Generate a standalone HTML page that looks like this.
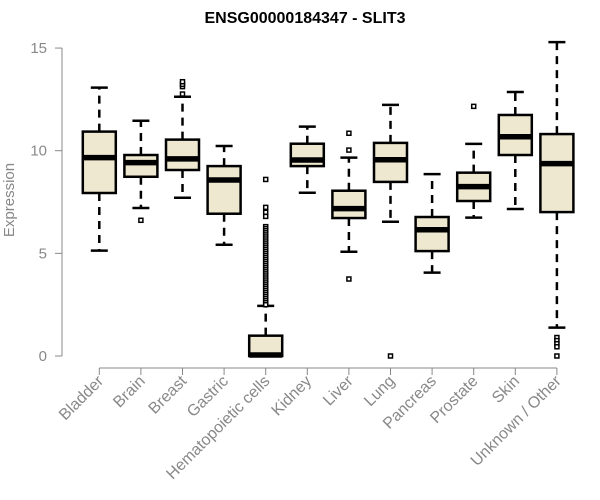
<!DOCTYPE html>
<html><head><meta charset="utf-8"><style>
body{margin:0;background:#fff}
svg{display:block;font-family:"Liberation Sans",Arial,sans-serif}
</style></head><body>
<svg id="chart" width="600" height="500">
<text x="305" y="23" text-anchor="middle" font-weight="bold" font-size="16" fill="#000">ENSG00000184347 - SLIT3</text>
<text transform="translate(14,200) rotate(-90)" text-anchor="middle" font-size="15" fill="#888">Expression</text>
<g id="yaxis"></g>
<g id="xaxis"></g>
<g id="boxes"></g>
</svg>
<script>
const categories=["Bladder","Brain","Breast","Gastric","Hematopoietic cells","Kidney","Liver","Lung","Pancreas","Prostate","Skin","Unknown / Other"];
const whiskerLow=[5.13,7.21,7.71,5.42,0,7.95,5.08,6.54,4.06,6.74,7.16,1.38];
const q1=[7.94,8.73,9.06,6.93,0,9.25,6.72,8.48,5.11,7.55,9.79,7.01];
const medians=[9.66,9.42,9.6,8.57,0.05,9.55,7.18,9.56,6.15,8.25,10.68,9.37];
const q3=[10.93,9.79,10.54,9.25,0.99,10.34,8.05,10.38,6.77,8.93,11.74,10.81];
const whiskerHigh=[13.07,11.46,12.63,10.23,2.44,11.17,9.66,12.23,8.86,10.33,12.86,15.29];
const outliers=[[],[6.61],[12.76,13.12,13.23,13.36],[],
[8.6,7.24,7.0,6.8,6.3,6.2,6.1,6.0,5.9,5.8,5.7,5.6,5.5,5.4,5.3,5.2,5.1,5.0,4.9,4.8,4.7,4.6,4.5,4.4,4.3,4.2,4.1,4.0,3.9,3.8,3.7,3.6,3.5,3.4,3.3,3.2,3.1,3.0,2.9,2.8,2.7,2.6,2.5],
[],[10.85,10.03,3.75],[0],[],[12.16],[],[0.9,0.75,0.6,0.45,0]];
const yTicks=[0,5,10,15];
const NS="http://www.w3.org/2000/svg";
const y=v=>356-v*20.53;
const x=i=>99.3+i*41.6;
function mk(t,a,p){const e=document.createElementNS(NS,t);for(const k in a)e.setAttribute(k,a[k]);p.appendChild(e);return e;}
const ya=document.getElementById('yaxis'),xa=document.getElementById('xaxis'),bx=document.getElementById('boxes');
mk('line',{x1:62,x2:62,y1:y(15),y2:y(0),stroke:'#888','stroke-width':1},ya);
yTicks.forEach(t=>{
  mk('line',{x1:55,x2:62,y1:y(t),y2:y(t),stroke:'#888'},ya);
  const tx=mk('text',{x:47,y:y(t)+5,'text-anchor':'end','font-size':15,fill:'#888'},ya);
  tx.textContent=t;
  
  
});
mk('line',{x1:x(0),x2:x(categories.length-1),y1:368,y2:368,stroke:'#888'},xa);
categories.forEach((c,i)=>{
  const cx=x(i);
  mk('line',{x1:cx,x2:cx,y1:368,y2:375,stroke:'#888'},xa);
  const tx=mk('text',{transform:`translate(${cx+5},${382}) rotate(-45)`,'text-anchor':'end','font-size':16,fill:'#888'},xa);
  tx.textContent=c;
  
  
  const g=mk('g',{},bx);
  
  
  const ds={stroke:'#000','stroke-width':2.5,'stroke-dasharray':'8,6'};
  mk('line',Object.assign({x1:cx,x2:cx,y1:y(q3[i]),y2:y(whiskerHigh[i])},ds),g);
  mk('line',Object.assign({x1:cx,x2:cx,y1:y(q1[i]),y2:y(whiskerLow[i])},ds),g);
  mk('line',{x1:cx-8.5,x2:cx+8.5,y1:y(whiskerHigh[i]),y2:y(whiskerHigh[i]),stroke:'#000','stroke-width':2.5},g);
  mk('line',{x1:cx-8.5,x2:cx+8.5,y1:y(whiskerLow[i]),y2:y(whiskerLow[i]),stroke:'#000','stroke-width':2.5},g);
  mk('rect',{x:cx-16.5,y:y(q3[i]),width:33,height:Math.max(y(q1[i])-y(q3[i]),0.5),fill:'#ede8cf',stroke:'#000','stroke-width':2.5},g);
  mk('line',{x1:cx-16.5,x2:cx+16.5,y1:y(medians[i]),y2:y(medians[i]),stroke:'#000','stroke-width':5.5},g);
  outliers[i].forEach(v=>{
    const r=mk('rect',{x:cx-2,y:y(v)-2,width:4,height:4,fill:'#fff',stroke:'#000','stroke-width':1.5},g);
    
    
  });
});
</script>
</body></html>
